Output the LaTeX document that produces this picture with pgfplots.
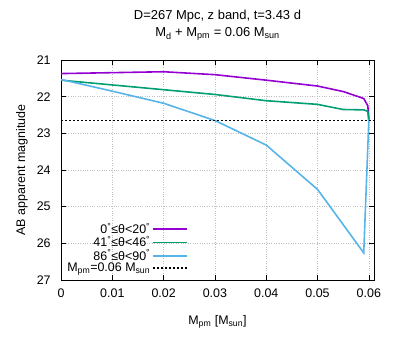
\documentclass[border=0pt]{standalone}
\usepackage{pgfplots}
\pgfplotsset{compat=1.18}
\usepackage{fontspec}
\setmainfont{Liberation Sans}

\definecolor{gpviolet}{RGB}{148,0,211}
\definecolor{gpgreen}{RGB}{0,158,115}
\definecolor{gpblue}{RGB}{86,180,233}
\newcommand{\dg}{\textsuperscript{°}}

\begin{document}
\fontsize{12.5}{14.5}\selectfont
\begin{tikzpicture}
\useasboundingbox (0,0) rectangle (399bp,342bp);
\begin{axis}[
  at={(61bp,62bp)}, anchor=south west,
  scale only axis, width=313bp, height=220bp,
  xmin=0, xmax=0.061, ymin=21, ymax=27, y dir=reverse,
  xtick={0,0.01,0.02,0.03,0.04,0.05,0.06},
  xticklabels={0,0.01,0.02,0.03,0.04,0.05,0.06},
  ytick={21,22,23,24,25,26,27},
  scaled x ticks=false,
  /pgf/number format/assume math mode=true,
  tick align=inside, major tick length=5bp,
  tick style={black, line width=0.6pt},
  axis line style={black, line width=0.8pt},
  grid=major, major grid style={gray!50, dotted},
  xticklabel style={yshift=-4bp},
  yticklabel style={xshift=-6bp},
  xlabel={M\textsubscript{pm} [M\textsubscript{sun}]},
  xlabel style={at={(axis description cs:0.5,-0.191)}, anchor=center},
  ylabel={AB apparent magnitude},
  ylabel style={at={(axis description cs:-0.1246,0.5)}, anchor=center},
  title={D=267 Mpc, z band, t=3.43 d\\M\textsubscript{d} + M\textsubscript{pm} = 0.06 M\textsubscript{sun}},
  title style={align=center, at={(axis description cs:0.5,1.13)}, anchor=center,
    font=\fontsize{13}{17}\selectfont},
  legend style={at={(axis description cs:0.01,0.015)}, anchor=south west,
    draw=none, fill=none, row sep=-3pt, inner sep=1pt},
  legend cell align=right,
  legend plot pos=right,
  legend image code/.code={\draw[#1] (0cm,0cm) -- (1.2cm,0cm);},
]
\addplot[gpviolet, line width=1.6pt] coordinates {
  (0,21.37) (0.01,21.345) (0.02,21.32) (0.03,21.40) (0.04,21.55)
  (0.05,21.71) (0.055,21.86) (0.059,22.05) (0.0598,22.25) (0.06,22.65)
};
\addlegendentry{0\dg≤θ<20\dg}
\addplot[gpgreen, line width=1.6pt] coordinates {
  (0,21.55) (0.01,21.68) (0.02,21.81) (0.03,21.94) (0.04,22.11)
  (0.05,22.21) (0.055,22.35) (0.059,22.36) (0.0598,22.40) (0.06,22.66)
};
\addlegendentry{41\dg≤θ<46\dg}
\addplot[gpblue, line width=1.6pt] coordinates {
  (0,21.53) (0.01,21.85) (0.02,22.18) (0.03,22.65) (0.04,23.32)
  (0.05,24.53) (0.059,26.26) (0.06,22.62)
};
\addlegendentry{86\dg≤θ<90\dg}
\addplot[black, line width=1.6pt, dash pattern=on 2bp off 2bp] coordinates {
  (0,22.65) (0.061,22.65)
};
\addlegendentry{M\textsubscript{pm}=0.06 M\textsubscript{sun}}
\end{axis}
\end{tikzpicture}
\end{document}
